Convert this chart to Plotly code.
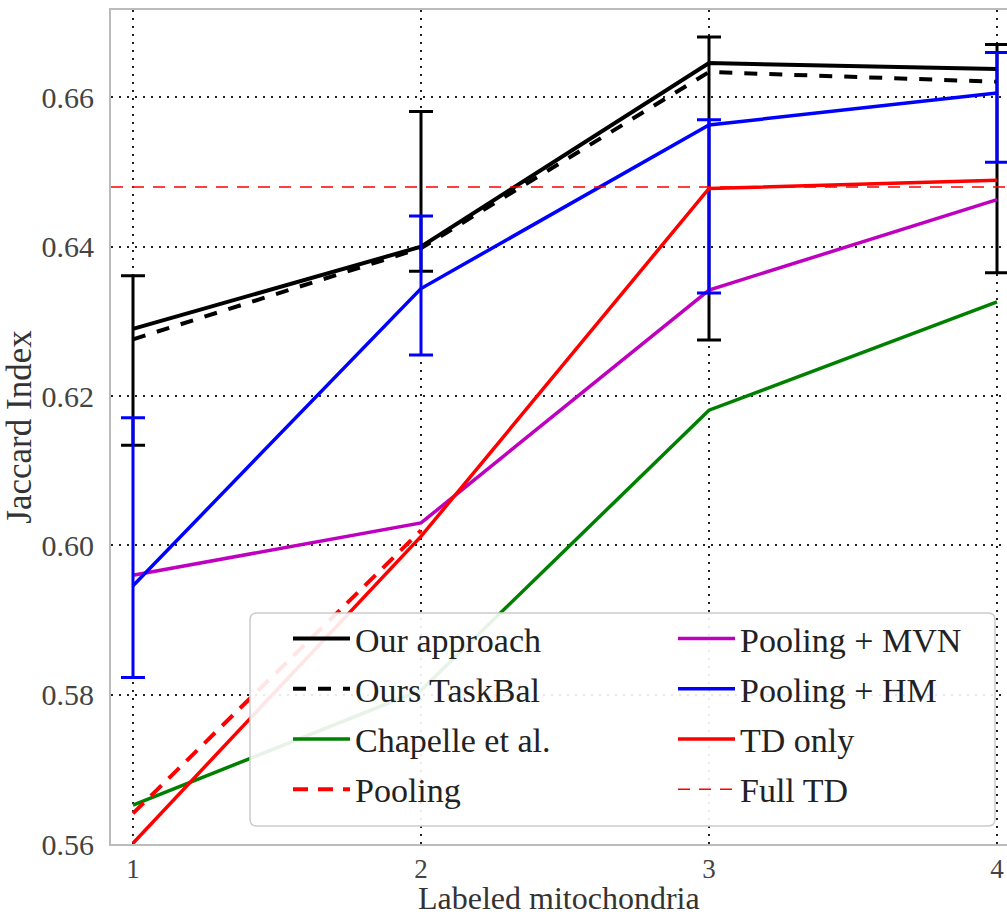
import plotly.graph_objects as go

# ---------------- data ----------------
x_labels = [1, 2, 3, 4]
our_approach = [0.6290, 0.6400, 0.6646, 0.6638]
our_err_plus = [0.0071, 0.0181, 0.0035, 0.0033]
our_err_minus = [0.0156, 0.0033, 0.0371, 0.0273]
ours_taskbal = [0.6276, 0.6398, 0.6634, 0.6621]
chapelle = [0.5652, 0.5806, 0.6181, 0.6326]
pooling = [0.5641, 0.6020, None, None]
pooling_mvn = [0.5960, 0.6030, 0.6342, 0.6463]
pooling_hm = [0.5946, 0.6344, 0.6563, 0.6606]
hm_err_plus = [0.0225, 0.0097, 0.0007, 0.0054]
hm_err_minus = [0.0123, 0.0089, 0.0225, 0.0093]
td_only = [0.5601, 0.6012, 0.6478, 0.6489]
full_td = 0.648
y_ticks = [0.56, 0.58, 0.60, 0.62, 0.64, 0.66]

# ---------------- layout geometry ----------------
W, H = 1007, 918
ML, MR, MT, MB = 111, 0, 10, 74
PW, PH = W - ML - MR, H - MT - MB

FONT = "Liberation Serif, DejaVu Serif, serif"


def px_x(px):
    return (px - ML) / PW


def px_y(py):
    return (H - MB - py) / PH


fig = go.Figure()


def add(y, name, color, width, dash="solid", legend="legend", rank=1, err=None):
    kw = dict(
        x=x_labels, y=y, name=name, mode="lines",
        line=dict(color=color, width=width, dash=dash),
        legend=legend, legendgroup=name, legendrank=rank,
        connectgaps=False, hoverinfo="skip",
    )
    if err is not None:
        kw["error_y"] = dict(type="data", symmetric=False, array=err[0],
                             arrayminus=err[1], color=color, thickness=3,
                             width=12)
    fig.add_trace(go.Scatter(**kw))


add(our_approach, "Our approach", "#000000", 4, rank=1,
    err=(our_err_plus, our_err_minus))
add(ours_taskbal, "Ours TaskBal", "#000000", 4, dash="13px,12px", rank=2)
add(chapelle, "Chapelle et al.", "#008000", 3.5, rank=3)
add(pooling, "Pooling", "#ff0000", 4, dash="15px,10px", rank=4)
add(pooling_mvn, "Pooling + MVN", "#bf00bf", 3.5, legend="legend2", rank=5)
add(pooling_hm, "Pooling + HM", "#0000ff", 3.5, legend="legend2", rank=6,
    err=(hm_err_plus, hm_err_minus))
add(td_only, "TD only", "#ff0000", 3.5, legend="legend2", rank=7)

# Full TD reference line (as a legend-enabled shape)
fig.add_shape(type="line", xref="paper", x0=0, x1=1, yref="y",
              y0=full_td, y1=full_td,
              line=dict(color="#ff0000", width=1.5, dash="12px,9px"),
              name="Full TD", showlegend=True, legend="legend2",
              legendgroup="Full TD", legendrank=8, layer="above")

# legend frame (rounded rectangle)
bx0, bx1 = px_x(250), px_x(995)
by0, by1 = px_y(826), px_y(613)
rx, ry = 7 / PW, 7 / PH
path = (f"M{bx0+rx},{by0} L{bx1-rx},{by0} Q{bx1},{by0} {bx1},{by0+ry} "
        f"L{bx1},{by1-ry} Q{bx1},{by1} {bx1-rx},{by1} L{bx0+rx},{by1} "
        f"Q{bx0},{by1} {bx0},{by1-ry} L{bx0},{by0+ry} Q{bx0},{by0} {bx0+rx},{by0} Z")
fig.add_shape(type="path", xref="paper", yref="paper", path=path,
              fillcolor="rgba(255,255,255,0.9)",
              line=dict(color="#cccccc", width=1.5), layer="above")

legend_common = dict(
    bgcolor="rgba(0,0,0,0)", borderwidth=0, orientation="v",
    font=dict(family=FONT, size=34, color="#222222"),
    traceorder="grouped", tracegroupgap=3, itemwidth=57,
    xanchor="left", yanchor="top", itemclick=False, itemdoubleclick=False,
)

fig.update_layout(
    width=W, height=H,
    margin=dict(l=ML, r=MR, t=MT, b=MB, pad=0, autoexpand=False),
    paper_bgcolor="white", plot_bgcolor="white",
    font=dict(family=FONT, color="#333333"),
    showlegend=True,
    legend=dict(x=px_x(288), y=px_y(610), **legend_common),
    legend2=dict(x=px_x(673), y=px_y(610), **legend_common),
)

# x-axis title as an annotation for exact placement
fig.add_annotation(text="Labeled mitochondria", xref="paper", yref="paper",
                   x=0.5, y=px_y(917), xanchor="center", yanchor="bottom",
                   showarrow=False, borderpad=0,
                   font=dict(family=FONT, size=32, color="#333333"))

grid = dict(showgrid=True, gridcolor="#222222", griddash="2px,6px", gridwidth=1.5,
            zeroline=False, ticks="", automargin=False)

x_lo = 1 - (133 - ML) / 288
x_hi = 1 + (W - 133) / 288
fig.update_xaxes(
    range=[x_lo, x_hi], tickvals=x_labels, ticktext=[str(v) for v in x_labels],
    tickfont=dict(family=FONT, size=27, color="#444444"),
    showline=True, linecolor="#bbbbbb", linewidth=2, mirror=True,
    ticklabelstandoff=0,
    **grid,
)
y_hi = 0.56 + PH / 7466
fig.update_yaxes(
    range=[0.56, y_hi], tickvals=y_ticks, ticktext=[f"{v:.2f}" for v in y_ticks],
    tickfont=dict(family=FONT, size=30, color="#444444"),
    showline=True, linecolor="#bbbbbb", linewidth=2, mirror=False,
    ticklabelstandoff=9,
    title=dict(text="Jaccard Index", font=dict(family=FONT, size=35, color="#333333"),
               standoff=3),
    **grid,
)

fig.write_html("out.html", config={"displayModeBar": False},
               post_script="document.body.style.margin='0';"
               "document.body.style.overflow='hidden';")
